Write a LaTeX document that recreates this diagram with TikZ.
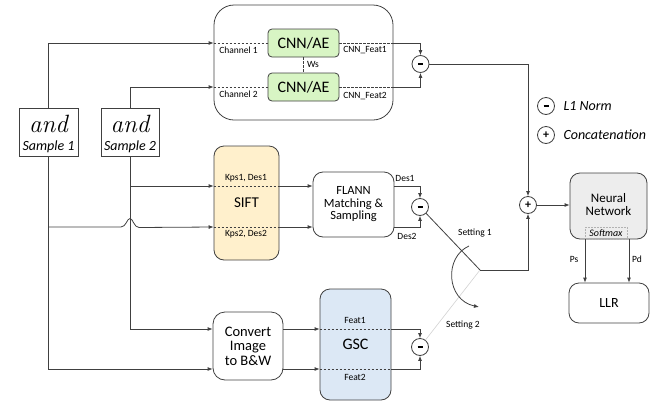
\documentclass[tikz,border=0pt]{standalone}
\usepackage{fontspec}
\setsansfont{Carlito}
\usetikzlibrary{arrows.meta}
\definecolor{ln}{HTML}{404040}
\definecolor{gfill}{HTML}{D8F5C4}
\definecolor{sfill}{HTML}{FFF0CC}
\definecolor{bfill}{HTML}{DCE8F5}
\definecolor{nfill}{HTML}{EDEDED}
\newcommand{\fs}[1]{\fontsize{#1}{#1}\selectfont}
\begin{document}
\begin{tikzpicture}[x=1pt,y=-1pt,
  every node/.style={font=\sffamily, text=black},
  box/.style={draw=ln, line width=0.8pt, rounded corners=10pt, align=center, inner sep=0pt},
  op/.style={circle, draw=ln, line width=0.8pt, minimum size=17pt, inner sep=0pt, fill=white},
  lab/.style={font=\sffamily\fs{9.5}, inner sep=1pt},
  wire/.style={draw=ln, line width=0.8pt},
  arr/.style={wire, -{Latex[length=5pt,width=4pt]}},
  dsh/.style={wire, dash pattern=on 2.5pt off 1.5pt}
]
\useasboundingbox (0,0) rectangle (670,405);
% rows
\coordinate (r1) at (0,186);
\coordinate (r2) at (0,227);
\coordinate (r3) at (0,329);
\coordinate (r4) at (0,369);

% CNN block
\node[box, rounded corners=20pt, minimum width=179pt, minimum height=115pt] (cnnbig) at (303.5,62.5) {};
\node[box, rounded corners=4pt, fill=gfill, minimum width=71pt, minimum height=28pt, font=\sffamily\fs{16}] (cnn1) at (303.5,43) {CNN/AE};
\node[box, rounded corners=4pt, fill=gfill, minimum width=71pt, minimum height=28pt, font=\sffamily\fs{16}] (cnn2) at (303.5,87) {CNN/AE};

% samples
\node[draw=ln, line width=0.8pt, minimum width=59pt, minimum height=48pt, inner sep=0pt] (s1) at (48.5,132) {};
\node[font=\rmfamily\itshape\fs{25}, inner sep=0pt] (a1) at (48.5,124) {and};
\node[font=\sffamily\itshape\fs{14}, inner sep=0pt] (t1) at (48.5,147) {Sample 1};
\node[draw=ln, line width=0.8pt, minimum width=58pt, minimum height=48pt, inner sep=0pt] (s2) at (130,132) {};
\node[font=\rmfamily\itshape\fs{25}, inner sep=0pt] (a2) at (130,124) {and};
\node[font=\sffamily\itshape\fs{14}, inner sep=0pt] (t2) at (130,147) {Sample 2};

% SIFT, FLANN, convert, GSC
\node[box, fill=sfill, minimum width=65pt, minimum height=114pt, font=\sffamily\fs{15}] (sift) at (246.5,203) {SIFT};
\node[box, minimum width=81pt, minimum height=65pt, font=\sffamily\fs{12.5}] (flann) at (353.5,204.5) {FLANN\\Matching \&\\Sampling};
\node[box, rounded corners=12pt, minimum width=70pt, minimum height=68pt, font=\sffamily\fs{14.5}] (conv) at (248,346) {Convert\\Image\\to B\&W};
\node[box, fill=bfill, minimum width=71pt, minimum height=111pt, font=\sffamily\fs{16}] (gsc) at (355.5,344.5) {GSC};

% operators
\node[op] (m1) at (420.5,64) {\rule{5pt}{1.8pt}};
\node[op] (m2) at (420,207) {\rule{5pt}{1.8pt}};
\node[op] (m3) at (420,347) {\rule{5pt}{1.8pt}};
\node[op, font=\sffamily\bfseries\fs{12}] (pl) at (528,205) {+};
\node[op] (lm) at (546,106) {\rule{5pt}{1.8pt}};
\node[op, font=\sffamily\bfseries\fs{12}] (lp) at (546,135) {+};
\node[anchor=west, font=\sffamily\itshape\fs{14}] (lmt) at (560,106) {L1 Norm};
\node[anchor=west, font=\sffamily\itshape\fs{14}] (lpt) at (560,135) {Concatenation};

% NN and LLR
\node[box, fill=nfill, minimum width=77pt, minimum height=66pt] (nn) at (608.5,206) {};
\node[font=\sffamily\fs{13}, align=center, inner sep=0pt] (nnt) at (608.5,205) {Neural\\Network};
\node[draw=gray!60, densely dotted, line width=0.5pt, font=\sffamily\itshape\fs{10}, minimum width=42pt, minimum height=12pt, inner sep=0pt] (sm) at (606,233) {Softmax};
\node[box, minimum width=80pt, minimum height=40pt, font=\sffamily\fs{14}] (llr) at (609,303) {LLR};

% CNN wiring
\draw[arr] (s1.north) |- (cnn1.west -| cnnbig.west);
\draw[dsh] (cnn1.west -| cnnbig.west) -- (cnn1.west);
\draw[arr] (s2.north) |- (cnn2.west -| cnnbig.west);
\draw[dsh] (cnn2.west -| cnnbig.west) -- (cnn2.west);
\draw[dsh] (cnn1.south) -- (cnn2.north);
\draw[dsh] (cnn1.east) -- (cnn1.east -| cnnbig.east);
\draw[arr] (cnn1.east -| cnnbig.east) -| (m1.north);
\draw[dsh] (cnn2.east) -- (cnn2.east -| cnnbig.east);
\draw[arr] (cnn2.east -| cnnbig.east) -| (m1.south);
\draw[arr] (m1.east) -| (pl.north);

\node[lab] (ch1) at (238.5,50) {Channel 1};
\node[lab] (ch2) at (238.5,94) {Channel 2};
\node[lab] (ws) at (313,64) {Ws};
\node[lab] (cf1) at (365,50) {CNN\_Feat1};
\node[lab] (cf2) at (365,96) {CNN\_Feat2};

% sample lines down
\draw[arr] (s2.south) |- (conv.west |- r3);
\draw[arr] (s1.south) |- (conv.west |- r4);
\draw[arr] (s2.south |- r1) -- (sift.west |- r1);
\coordinate (b1) at (121,227);
\coordinate (b2) at (130,218.5);
\coordinate (b3) at (139,227.5);
\draw[arr] (s1.south |- r2) -- (b1) .. controls (126,227) and (127,218.5) .. (b2) .. controls (133,218.5) and (134,227.5) .. (b3) -- (sift.west |- r2);

% SIFT wiring
\draw[dsh] (sift.west |- r1) -- (sift.east |- r1);
\draw[dsh] (sift.west |- r2) -- (sift.east |- r2);
\draw[arr] (sift.east |- r1) -- (flann.west |- r1);
\draw[arr] (sift.east |- r2) -- (flann.west |- r2);
\draw[arr] (flann.east |- r1) -| (m2.north);
\draw[arr] (flann.east |- r2) -| (m2.south);
\node[lab] (kd1) at (246,178) {Kps1, Des1};
\node[lab] (kd2) at (246,234) {Kps2, Des2};
\node[lab] (d1) at (405,178) {Des1};
\node[lab] (d2) at (407,236) {Des2};

% GSC wiring
\draw[arr] (conv.east |- r3) -- (gsc.west |- r3);
\draw[arr] (conv.east |- r4) -- (gsc.west |- r4);
\draw[dsh] (gsc.west |- r3) -- (gsc.east |- r3);
\draw[dsh] (gsc.west |- r4) -- (gsc.east |- r4);
\draw[arr] (gsc.east |- r3) -| (m3.north);
\draw[arr] (gsc.east |- r4) -| (m3.south);
\node[lab] (f1) at (355,320) {Feat1};
\node[lab] (f2) at (355,377) {Feat2};

% switch
\coordinate (sw) at (480,270);
\draw[wire] (m2.-46) -- (sw);
\draw[gray!35, line width=0.6pt] (m3.52) -- (sw);
\draw[arr] (sw) -| (pl.south);
\coordinate (c1) at (469,246);
\coordinate (c2) at (479,307);
\draw[arr] (c1) .. controls (444,257) and (446,300) .. (c2);
\node[lab] (st1) at (475,233) {Setting 1};
\node[lab] (st2) at (463,325) {Setting 2};

% NN wiring
\draw[arr] (pl.east) -- (pl.east -| nn.west);
\coordinate (ps) at (585,0);
\coordinate (pd) at (629,0);
\draw[arr] (ps |- nn.south) -- (ps |- llr.north);
\draw[arr] (pd |- nn.south) -- (pd |- llr.north);
\node[lab] (pst) at (574,259) {Ps};
\node[lab] (pdt) at (637,259) {Pd};
\end{tikzpicture}
\end{document}
